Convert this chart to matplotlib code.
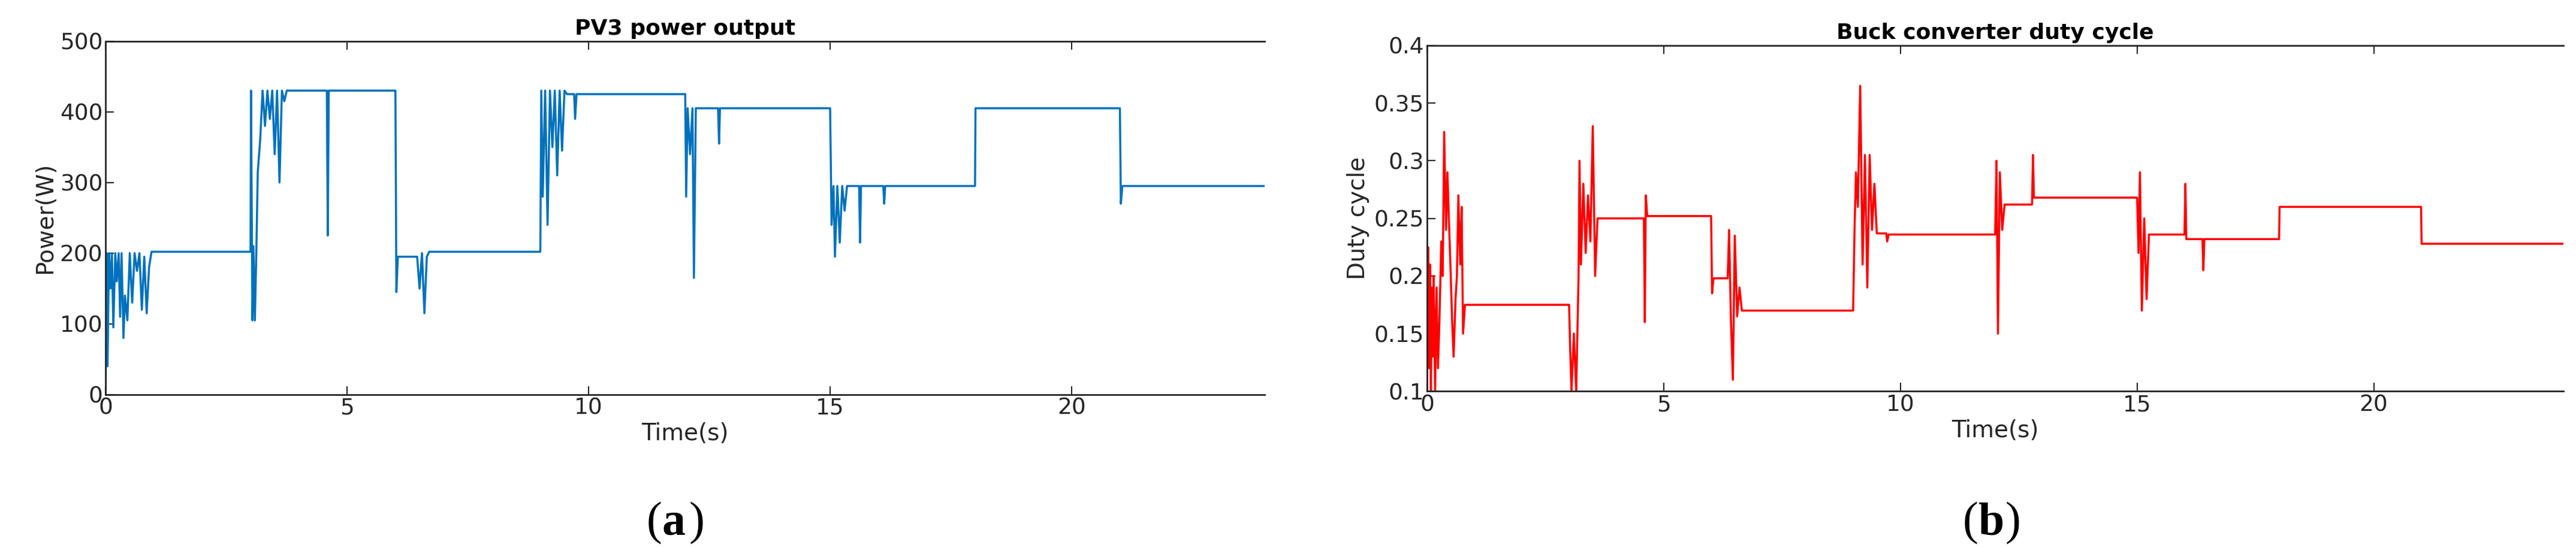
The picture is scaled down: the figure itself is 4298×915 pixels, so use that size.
import matplotlib.pyplot as plt

# PV3 power output: (time s, power W) vertices
pv_points = [
    (0.0, 0), (0.02, 200), (0.04, 40), (0.07, 200), (0.1, 150), (0.13, 200), (0.16, 95), (0.2, 200),
    (0.23, 160), (0.27, 200), (0.3, 110), (0.33, 200), (0.37, 80), (0.4, 140), (0.45, 105), (0.5, 200),
    (0.55, 130), (0.6, 200), (0.65, 175), (0.7, 200), (0.75, 120), (0.8, 195), (0.85, 115), (0.9, 180),
    (0.95, 202), (3.0, 202), (3.01, 430), (3.04, 105), (3.06, 210), (3.09, 105), (3.12, 200), (3.15, 315),
    (3.2, 360), (3.25, 430), (3.3, 380), (3.35, 430), (3.4, 390), (3.45, 430), (3.5, 340), (3.55, 430),
    (3.6, 300), (3.65, 430), (3.7, 415), (3.75, 430), (4.58, 430), (4.6, 225), (4.62, 430), (6.0, 430),
    (6.02, 145), (6.05, 195), (6.45, 195), (6.5, 150), (6.55, 200), (6.6, 115), (6.65, 195), (6.7, 202),
    (9.0, 202), (9.02, 430), (9.05, 280), (9.1, 430), (9.15, 240), (9.2, 430), (9.25, 350), (9.3, 430),
    (9.35, 310), (9.4, 430), (9.45, 345), (9.5, 430), (9.55, 425), (9.7, 425), (9.72, 390), (9.75, 425),
    (12.0, 425), (12.02, 280), (12.05, 405), (12.1, 340), (12.15, 405), (12.18, 165), (12.22, 405),
    (12.68, 405), (12.7, 355), (12.72, 405), (15.0, 405), (15.03, 240), (15.07, 295), (15.1, 195),
    (15.15, 295), (15.2, 215), (15.25, 295), (15.3, 260), (15.35, 295), (15.6, 295), (15.62, 215),
    (15.64, 295), (16.1, 295), (16.12, 270), (16.14, 295), (18.0, 295), (18.01, 405), (21.0, 405),
    (21.02, 270), (21.05, 295), (24.0, 295),
]

# Buck converter duty cycle: (time s, duty) vertices
duty_points = [
    (0.0, 0.1), (0.02, 0.225), (0.04, 0.12), (0.06, 0.21), (0.08, 0.1), (0.1, 0.19), (0.12, 0.13),
    (0.14, 0.2), (0.17, 0.1), (0.2, 0.19), (0.23, 0.12), (0.26, 0.16), (0.3, 0.23), (0.33, 0.2),
    (0.36, 0.325), (0.4, 0.24), (0.43, 0.29), (0.46, 0.25), (0.5, 0.2), (0.53, 0.16), (0.56, 0.13),
    (0.6, 0.18), (0.63, 0.2), (0.66, 0.27), (0.7, 0.21), (0.73, 0.26), (0.76, 0.15), (0.8, 0.175),
    (3.0, 0.175), (3.02, 0.14), (3.05, 0.1), (3.1, 0.15), (3.15, 0.1), (3.2, 0.2), (3.22, 0.3),
    (3.25, 0.21), (3.3, 0.28), (3.35, 0.22), (3.4, 0.27), (3.45, 0.23), (3.5, 0.33), (3.55, 0.2),
    (3.6, 0.25), (4.58, 0.25), (4.6, 0.16), (4.62, 0.27), (4.65, 0.252), (6.0, 0.252), (6.02, 0.185),
    (6.05, 0.198), (6.35, 0.198), (6.38, 0.24), (6.42, 0.16), (6.46, 0.11), (6.5, 0.235), (6.55, 0.165),
    (6.6, 0.19), (6.65, 0.17), (9.0, 0.17), (9.03, 0.24), (9.06, 0.29), (9.1, 0.26), (9.15, 0.365),
    (9.2, 0.21), (9.25, 0.305), (9.3, 0.19), (9.35, 0.305), (9.4, 0.24), (9.45, 0.28), (9.5, 0.237),
    (9.7, 0.237), (9.72, 0.23), (9.75, 0.236), (12.0, 0.236), (12.03, 0.3), (12.06, 0.15), (12.1, 0.29),
    (12.15, 0.24), (12.2, 0.262), (12.78, 0.262), (12.8, 0.305), (12.82, 0.268), (15.0, 0.268),
    (15.03, 0.22), (15.06, 0.29), (15.1, 0.17), (15.15, 0.25), (15.2, 0.18), (15.25, 0.236),
    (16.0, 0.236), (16.02, 0.28), (16.04, 0.232), (16.38, 0.232), (16.4, 0.205), (16.42, 0.232),
    (18.0, 0.232), (18.01, 0.26), (21.0, 0.26), (21.01, 0.228), (24.0, 0.228),
]

x_ticks = [0, 5, 10, 15, 20]


def style_axis(ax):
    ax.set_xlim(0, 24)
    ax.set_xticks(x_ticks)
    ax.tick_params(direction="in", labelsize=27, length=10, width=1.5, top=True, colors="#262626",
                   labelcolor="#262626")
    ax.spines["right"].set_visible(False)
    for sp in ax.spines.values():
        sp.set_linewidth(2)
        sp.set_color("#262626")
    ax.set_xlabel("Time(s)", fontsize=28, labelpad=4, color="#262626")


fig = plt.figure(figsize=(42.98, 9.15), dpi=100)
ax1 = fig.add_axes([0.041, 0.28, 0.45, 0.645])
ax2 = fig.add_axes([0.554, 0.286, 0.441, 0.631])

pv_t, pv_p = zip(*pv_points)
ax1.plot(pv_t, pv_p, color="#0072BD", lw=2.5)
style_axis(ax1)
ax1.set_ylim(0, 500)
ax1.set_yticks([0, 100, 200, 300, 400, 500])
ax1.set_ylabel("Power(W)", fontsize=28, labelpad=4, color="#262626")
ax1.set_title("PV3 power output", fontsize=26, fontweight="bold", pad=8)

duty_t, duty_v = zip(*duty_points)
ax2.plot(duty_t, duty_v, color="red", lw=2.5)
style_axis(ax2)
ax2.set_ylim(0.1, 0.4)
ax2.set_yticks([0.1, 0.15, 0.2, 0.25, 0.3, 0.35, 0.4])
ax2.set_yticklabels(["0.1", "0.15", "0.2", "0.25", "0.3", "0.35", "0.4"])
ax2.set_ylabel("Duty cycle", fontsize=28, labelpad=6, color="#262626")
ax2.set_title("Buck converter duty cycle", fontsize=26, fontweight="bold", pad=8)

for x, letter in [(0.257, "a"), (0.768, "b")]:
    fig.text(x, 0.025, "(", fontsize=56, family="Liberation Serif", ha="right")
    fig.text(x, 0.025, letter, fontsize=56, family="Liberation Serif", fontweight="bold", ha="left")
    fig.text(x + 0.0105, 0.025, ")", fontsize=56, family="Liberation Serif", ha="left")

fig.savefig("out.png", dpi=100)
